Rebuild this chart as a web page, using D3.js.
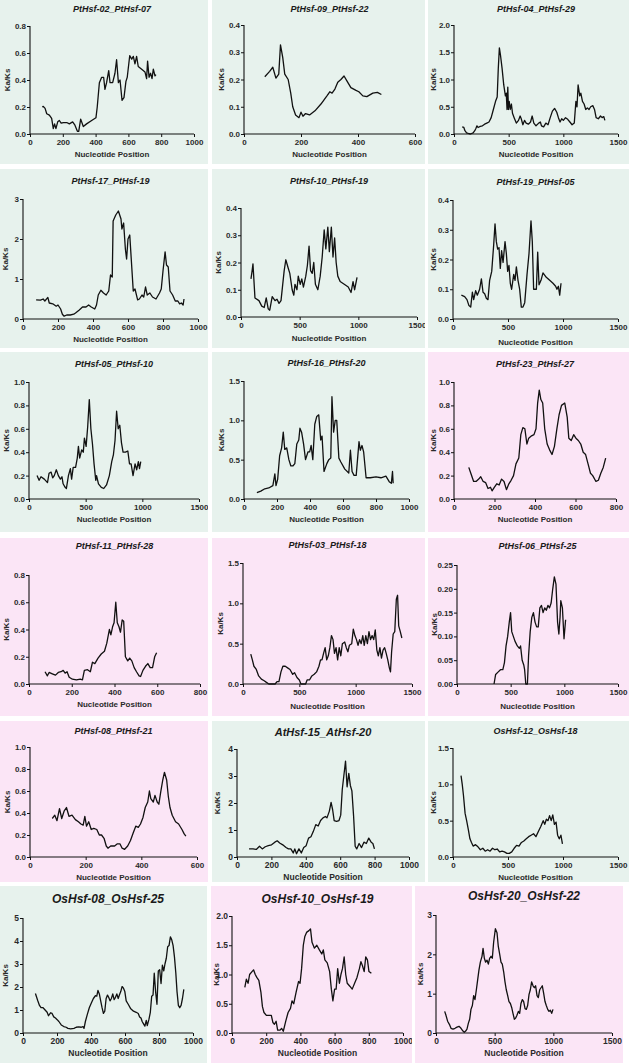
<!DOCTYPE html>
<html>
<head>
<meta charset="utf-8">
<script src="https://cdn.jsdelivr.net/npm/d3@7"></script>
<style>
  html, body { margin: 0; padding: 0; background: #fff; }
  svg { display: block; font-family: "Liberation Sans", Arial, sans-serif; }
  .tick text { font-weight: bold; fill: #2a2a2a; }
</style>
</head>
<body>
<svg id="chart" width="629" height="1063"></svg>
<script>
// ---- data: one sliding-window Ka/Ks series per gene pair ----
const titles = [
  "PtHsf-02_PtHsf-07", "PtHsf-09_PtHsf-22", "PtHsf-04_PtHsf-29",
  "PtHsf-17_PtHsf-19", "PtHsf-10_PtHsf-19", "PtHsf-19_PtHsf-05",
  "PtHsf-05_PtHsf-10", "PtHsf-16_PtHsf-20", "PtHsf-23_PtHsf-27",
  "PtHsf-11_PtHsf-28", "PtHsf-03_PtHsf-18", "PtHsf-06_PtHsf-25",
  "PtHsf-08_PtHsf-21", "AtHsf-15_AtHsf-20", "OsHsf-12_OsHsf-18",
  "OsHsf-08_OsHsf-25", "OsHsf-10_OsHsf-19", "OsHsf-20_OsHsf-22"
];
const tones  = ["g","g","g", "g","g","g", "g","g","p", "p","p","p", "p","g","g", "g","p","p"];
const xMaxes = [1000, 600, 1500, 1000, 1500, 1500, 1500, 1000, 800, 800, 1500, 1500, 600, 1000, 1500, 1000, 1000, 1500];
const xSteps = [200, 200, 500, 200, 500, 500, 500, 200, 200, 200, 500, 500, 200, 200, 500, 200, 200, 500];
const yMaxes = [0.8, 0.4, 2.0, 3, 0.4, 0.4, 1.0, 1.5, 1.0, 0.8, 1.5, 0.25, 1.0, 4, 1.5, 5, 2.0, 3];
const ySteps = [0.2, 0.1, 0.5, 1, 0.1, 0.1, 0.2, 0.5, 0.2, 0.2, 0.5, 0.05, 0.2, 1, 0.5, 1, 0.5, 1];
const yDigits = [1, 1, 1, 0, 1, 1, 1, 1, 1, 1, 1, 2, 1, 0, 1, 0, 1, 0];

const s01 = [[75,.20],[81,.205],[92,.19],[102,.15],[118,.14],[132,.115],[142,.04],[150,.075],[158,.04],[169,.09],[179,.10],[190,.08],[203,.085],[224,.085],[240,.075],[260,.09],[274,.065],[289,.02],[297,.02],[309,.11],[325,.055],[345,.075],[376,.10],[402,.12],[410,.20],[423,.38],[437,.42],[449,.42],[457,.33],[467,.38],[480,.47],[488,.38],[504,.38],[518,.45],[528,.55],[539,.38],[549,.40],[561,.25],[573,.27],[585,.39],[593,.42],[608,.58],[620,.555],[630,.575],[640,.52],[650,.575],[660,.50],[681,.48],[701,.46],[711,.41],[717,.54],[726,.42],[735,.45],[744,.41],[752,.48],[762,.43],[768,.44]];
const s02 = [[73,.21],[90,.23],[101,.245],[112,.205],[122,.22],[128,.327],[136,.28],[143,.22],[155,.20],[164,.15],[171,.10],[181,.07],[193,.06],[200,.08],[207,.065],[216,.075],[230,.07],[249,.085],[270,.11],[291,.14],[301,.155],[309,.15],[319,.165],[329,.19],[340,.20],[351,.213],[361,.195],[375,.17],[393,.16],[403,.155],[417,.14],[431,.137],[452,.15],[468,.153],[482,.145]];
const s03 = [[75,.13],[90,.12],[100,.06],[115,.02],[130,.01],[150,0],[175,.02],[190,.06],[200,.10],[210,.15],[220,.12],[240,.14],[260,.15],[280,.18],[300,.20],[320,.22],[340,.30],[360,.45],[380,.60],[395,.68],[405,1.2],[415,1.58],[425,1.45],[440,1.2],[455,.90],[470,.70],[478,.75],[485,.45],[492,.86],[498,.45],[505,.60],[515,.45],[525,.55],[535,.38],[550,.30],[570,.20],[590,.25],[605,.33],[615,.28],[630,.17],[645,.25],[660,.20],[680,.18],[700,.22],[715,.33],[730,.20],[750,.15],[775,.20],[790,.22],[800,.15],[820,.13],[840,.20],[860,.17],[880,.30],[900,.42],[920,.47],[940,.40],[955,.30],[970,.22],[985,.28],[1000,.25],[1020,.30],[1040,.27],[1060,.22],[1080,.17],[1100,.20],[1115,.60],[1125,.50],[1135,.90],[1150,.70],[1160,.75],[1175,.60],[1190,.55],[1205,.45],[1220,.48],[1235,.45],[1250,.50],[1270,.52],[1285,.45],[1300,.30],[1320,.28],[1340,.33],[1355,.30],[1370,.32],[1380,.25]];
const s04 = [[75,.48],[100,.47],[115,.50],[125,.45],[142,.54],[150,.40],[170,.38],[190,.32],[200,.35],[215,.25],[225,.12],[235,.07],[250,.10],[270,.10],[290,.12],[300,.15],[320,.22],[340,.30],[360,.30],[375,.35],[390,.30],[410,.25],[420,.35],[430,.60],[445,.72],[460,.65],[475,.60],[490,.70],[500,1.1],[510,1.05],[515,2.45],[530,2.6],[545,2.7],[560,2.5],[565,2.25],[575,2.4],[585,1.75],[592,1.5],[600,2.0],[610,2.1],[620,1.4],[630,.70],[640,.75],[655,.48],[665,.50],[680,.60],[690,.55],[700,.80],[710,.60],[725,.65],[740,.55],[760,.50],[780,.65],[790,.75],[800,1.2],[812,1.68],[820,1.35],[830,1.3],[840,.70],[855,.60],[870,.45],[885,.45],[895,.38],[905,.40],[915,.35],[920,.50]];
const s05 = [[85,.14],[95,.17],[102,.195],[119,.07],[153,.06],[177,.04],[198,.035],[215,.07],[232,.03],[245,.025],[266,.075],[290,.06],[307,.065],[324,.05],[341,.06],[368,.17],[382,.21],[402,.18],[416,.16],[436,.10],[450,.08],[460,.12],[477,.10],[488,.15],[505,.12],[518,.14],[532,.11],[552,.15],[566,.19],[580,.26],[593,.17],[607,.16],[620,.20],[634,.12],[655,.10],[675,.15],[692,.22],[709,.32],[723,.25],[740,.33],[753,.24],[770,.33],[784,.22],[798,.29],[811,.20],[825,.15],[845,.13],[880,.12],[914,.11],[938,.09],[955,.13],[968,.10],[989,.145]];
const s06 = [[76,.08],[106,.075],[127,.065],[145,.045],[161,.04],[176,.09],[188,.065],[206,.095],[221,.08],[242,.10],[258,.135],[273,.09],[288,.085],[303,.07],[318,.065],[333,.13],[352,.16],[370,.25],[382,.32],[394,.26],[406,.235],[418,.24],[430,.17],[442,.23],[455,.19],[473,.26],[485,.22],[497,.16],[509,.18],[521,.12],[533,.10],[552,.15],[564,.13],[576,.175],[591,.13],[606,.10],[621,.04],[636,.04],[652,.055],[673,.15],[691,.22],[709,.33],[721,.26],[733,.10],[745,.10],[758,.10],[770,.225],[782,.115],[800,.13],[818,.155],[848,.14],[879,.13],[909,.12],[933,.11],[945,.10],[958,.11],[970,.08],[982,.12]];
const s07 = [[71,.20],[89,.16],[106,.19],[135,.17],[163,.14],[177,.22],[195,.23],[209,.18],[223,.20],[241,.25],[259,.20],[277,.17],[291,.19],[301,.13],[319,.10],[330,.09],[348,.20],[365,.26],[376,.17],[390,.27],[411,.27],[426,.35],[436,.45],[447,.35],[465,.42],[479,.40],[489,.52],[504,.45],[518,.62],[532,.85],[546,.60],[560,.47],[574,.30],[589,.16],[596,.20],[613,.13],[638,.10],[660,.09],[684,.12],[709,.20],[730,.32],[745,.38],[759,.50],[773,.75],[787,.60],[801,.63],[816,.48],[830,.40],[851,.40],[872,.41],[887,.30],[901,.30],[918,.20],[936,.30],[950,.25],[965,.32],[975,.26],[986,.32]];
const s08 = [[78,.08],[102,.10],[126,.13],[150,.14],[175,.17],[187,.32],[194,.17],[204,.25],[216,.55],[228,.65],[238,.85],[247,.63],[259,.65],[272,.50],[284,.42],[296,.42],[308,.45],[320,.70],[332,.75],[339,.90],[349,.85],[361,.70],[373,.50],[388,.60],[398,.60],[407,.68],[417,.50],[429,.95],[441,1.05],[453,1.07],[465,.75],[473,.80],[485,.35],[502,.45],[514,.50],[526,.52],[533,1.3],[543,.85],[553,1.0],[562,1.0],[575,.52],[587,.47],[611,.38],[635,.33],[645,.62],[655,.35],[667,.30],[680,.30],[697,.73],[705,.62],[715,.68],[725,.60],[740,.27],[765,.27],[800,.28],[830,.27],[860,.29],[880,.22],[893,.20],[900,.35],[904,.20]];
const s09 = [[73,.27],[83,.22],[97,.15],[109,.15],[122,.17],[132,.19],[144,.15],[156,.14],[168,.09],[180,.10],[188,.07],[199,.10],[211,.13],[223,.12],[235,.17],[247,.15],[259,.08],[271,.13],[282,.16],[294,.20],[306,.30],[320,.35],[330,.55],[340,.61],[350,.60],[360,.47],[369,.52],[383,.54],[395,.55],[405,.60],[413,.82],[421,.93],[429,.85],[438,.82],[448,.60],[460,.47],[472,.42],[484,.38],[496,.45],[508,.60],[519,.72],[531,.80],[547,.82],[559,.70],[567,.52],[579,.50],[591,.55],[602,.52],[614,.50],[626,.47],[638,.40],[650,.38],[662,.30],[674,.22],[685,.20],[701,.15],[713,.16],[725,.22],[737,.27],[749,.35]];
const s10 = [[75,.09],[86,.06],[94,.085],[109,.075],[124,.065],[137,.085],[150,.09],[160,.10],[169,.08],[178,.09],[188,.05],[203,.035],[222,.03],[240,.035],[250,.03],[259,.10],[274,.105],[287,.09],[297,.16],[308,.15],[323,.19],[338,.22],[353,.24],[364,.30],[376,.40],[383,.36],[391,.42],[398,.45],[406,.60],[413,.45],[421,.42],[428,.38],[436,.47],[443,.46],[451,.20],[462,.17],[471,.19],[481,.17],[492,.12],[503,.09],[515,.06],[522,.055],[533,.10],[545,.13],[556,.15],[567,.12],[578,.12],[588,.20],[597,.23]];
const s11 = [[69,.37],[83,.30],[97,.22],[118,.18],[139,.10],[163,.06],[188,.04],[208,.02],[229,0],[250,0],[285,0],[302,.03],[319,.03],[337,.15],[354,.22],[375,.22],[396,.20],[417,.18],[441,.12],[458,.14],[479,.08],[500,.05],[514,0],[535,0],[556,0],[569,.05],[590,.05],[611,.10],[632,.12],[653,.15],[674,.22],[688,.30],[701,.30],[715,.38],[729,.45],[743,.30],[757,.35],[771,.45],[785,.60],[799,.55],[812,.38],[826,.45],[840,.30],[854,.45],[868,.35],[882,.50],[903,.52],[917,.45],[931,.40],[944,.48],[965,.50],[979,.68],[993,.60],[1007,.55],[1021,.48],[1035,.55],[1049,.50],[1063,.60],[1076,.48],[1090,.60],[1104,.50],[1118,.65],[1132,.55],[1146,.60],[1160,.55],[1174,.67],[1188,.42],[1201,.35],[1215,.45],[1229,.32],[1243,.42],[1257,.45],[1271,.38],[1285,.30],[1299,.20],[1309,.15],[1319,.40],[1333,.62],[1347,.65],[1361,1.05],[1372,1.1],[1382,.72],[1396,.65],[1410,.57]];
const s12 = [[345,0],[360,.02],[382,.025],[405,.03],[427,.03],[442,.045],[457,.08],[472,.10],[487,.13],[499,.15],[510,.11],[525,.10],[540,.09],[562,.08],[581,.075],[592,.08],[607,.05],[622,.04],[630,.03],[641,0],[656,0],[667,.06],[682,.11],[697,.14],[712,.15],[727,.13],[742,.12],[757,.12],[772,.16],[787,.165],[802,.15],[817,.16],[832,.155],[847,.165],[862,.16],[877,.17],[892,.20],[907,.225],[922,.21],[937,.13],[949,.105],[960,.14],[967,.175],[982,.16],[997,.095],[1012,.135]];
const s13 = [[80,.35],[89,.38],[97,.33],[106,.44],[114,.35],[123,.42],[131,.45],[140,.37],[151,.38],[163,.34],[174,.32],[183,.30],[191,.29],[197,.37],[203,.28],[211,.32],[220,.25],[229,.26],[240,.25],[249,.20],[257,.20],[266,.17],[274,.10],[280,.08],[290,.10],[304,.10],[314,.12],[323,.12],[331,.08],[340,.07],[351,.10],[361,.15],[371,.22],[380,.28],[389,.27],[397,.30],[406,.36],[414,.45],[423,.50],[429,.60],[434,.53],[443,.50],[449,.56],[457,.50],[463,.48],[469,.58],[477,.70],[483,.77],[491,.70],[497,.55],[503,.45],[511,.38],[523,.32],[534,.30],[546,.25],[554,.21],[560,.19]];
const s14 = [[70,.30],[93,.30],[112,.28],[131,.40],[147,.30],[164,.38],[182,.42],[201,.45],[220,.55],[234,.60],[248,.52],[266,.45],[285,.35],[299,.30],[313,.30],[327,.15],[336,.30],[346,.12],[360,.30],[374,.15],[388,.35],[402,.42],[416,.70],[430,.75],[444,.95],[458,1.2],[472,1.15],[486,1.35],[500,1.45],[514,1.5],[523,1.45],[537,1.7],[547,2.02],[556,1.75],[565,1.35],[579,1.32],[593,1.35],[603,1.55],[612,2.5],[621,3.0],[631,3.55],[640,2.6],[650,3.1],[659,2.65],[668,2.45],[678,1.5],[687,.40],[696,.30],[710,.50],[724,.35],[738,.55],[752,.50],[766,.70],[780,.55],[790,.50],[799,.30]];
const s15 = [[73,1.12],[84,1.0],[95,.85],[110,.60],[124,.50],[139,.38],[154,.25],[168,.20],[183,.15],[205,.17],[227,.14],[249,.10],[271,.12],[293,.08],[315,.10],[337,.08],[359,.12],[381,.10],[402,.11],[424,.07],[446,.08],[468,.07],[490,.05],[512,.05],[534,.07],[556,.12],[578,.16],[600,.15],[622,.20],[644,.22],[666,.25],[688,.28],[710,.30],[732,.32],[754,.28],[776,.35],[798,.42],[820,.50],[834,.45],[849,.52],[864,.50],[878,.57],[893,.50],[907,.58],[922,.45],[937,.48],[951,.30],[966,.25],[981,.30],[995,.18]];
const s16 = [[73,1.72],[87,1.4],[97,1.2],[106,1.1],[118,1.1],[130,1.0],[142,.90],[150,.75],[162,.88],[171,.85],[181,.70],[191,.65],[201,.58],[211,.50],[225,.35],[240,.28],[254,.25],[264,.20],[280,.18],[300,.20],[313,.25],[327,.27],[343,.25],[353,.28],[359,.20],[367,.50],[378,.80],[390,1.1],[402,1.3],[414,1.5],[426,1.62],[434,1.6],[441,1.85],[449,1.7],[457,1.4],[465,1.1],[473,.85],[481,.95],[489,1.5],[497,1.65],[504,1.55],[512,1.4],[520,1.5],[528,1.7],[536,1.45],[544,1.55],[552,1.7],[560,1.5],[567,1.65],[575,1.8],[583,2.02],[591,1.95],[599,1.8],[607,1.4],[619,1.25],[634,1.05],[650,.95],[666,.90],[678,.85],[686,.70],[694,.65],[701,.50],[709,.40],[717,.30],[725,.55],[731,.32],[741,.60],[749,.90],[757,1.6],[765,1.65],[772,2.6],[780,1.8],[788,1.25],[796,2.7],[804,2.75],[812,2.15],[820,2.95],[828,2.7],[835,3.0],[843,3.25],[851,3.75],[859,3.8],[867,4.18],[875,4.05],[883,3.8],[891,3.3],[899,2.6],[906,1.8],[914,1.2],[922,1.1],[930,1.2],[938,1.5],[946,1.9]];
const s17 = [[75,.78],[84,.92],[94,.85],[103,1.0],[117,1.05],[126,1.08],[136,1.0],[145,.95],[157,.90],[169,.70],[178,.45],[187,.35],[201,.30],[215,.30],[230,.30],[239,.18],[248,.15],[258,.20],[267,.05],[281,.05],[290,.08],[300,.03],[314,.20],[328,.35],[342,.42],[351,.55],[361,.50],[375,.70],[389,.88],[398,.85],[407,1.1],[417,1.5],[426,1.65],[436,1.72],[450,1.75],[459,1.78],[468,1.55],[482,1.45],[496,1.5],[511,1.42],[525,1.35],[534,1.42],[543,1.25],[557,1.2],[571,1.05],[581,.75],[590,.55],[600,.75],[609,.75],[618,1.1],[628,.85],[637,1.0],[646,1.1],[656,1.3],[665,1.0],[674,.85],[689,.80],[703,.75],[717,.85],[731,.95],[745,1.1],[754,1.22],[763,1.15],[773,1.05],[782,1.3],[792,1.25],[801,1.05],[815,1.02]];
const s18 = [[74,.55],[85,.45],[99,.30],[114,.22],[128,.12],[145,.10],[162,.12],[179,.15],[196,.17],[213,.12],[230,.05],[241,.02],[253,.05],[264,.10],[276,.25],[287,.35],[298,.60],[310,.70],[321,.95],[332,.85],[344,1.1],[355,1.35],[366,1.6],[378,1.8],[392,1.95],[401,2.15],[412,1.9],[423,1.8],[435,1.85],[446,1.75],[457,1.9],[469,1.95],[480,1.9],[491,2.3],[506,2.65],[520,2.55],[531,2.2],[543,2.0],[554,1.8],[565,1.75],[577,1.55],[588,1.3],[599,1.1],[611,.95],[622,.80],[634,.75],[645,.65],[656,.50],[668,.35],[679,.38],[690,.45],[702,.55],[713,.50],[724,.75],[736,.85],[747,.80],[759,.62],[770,.60],[781,.70],[793,.98],[804,1.1],[815,1.3],[827,1.2],[838,1.15],[849,1.2],[861,.95],[872,.90],[884,1.1],[895,1.15],[906,1.2],[918,1.0],[929,.80],[940,.70],[952,.60],[963,.55],[974,.58],[986,.50],[997,.60]];
const series = [s01, s02, s03, s04, s05, s06, s07, s08, s09, s10, s11, s12, s13, s14, s15, s16, s17, s18];

// ---- layout (pixel boxes of each panel and its plot area) ----
// frame: [x0, y0, x1, y1]; plot: [left, top, right, bottom, titleY, xLabelY]
const frames = [
  [0,0,208,164],[212,0,425,164],[428,0,629,164],
  [0,169,208,348],[212,169,425,348],[428,169,629,348],
  [0,352,208,532],[212,352,425,532],[428,352,629,532],
  [0,538,208,716],[212,538,425,716],[428,538,629,716],
  [0,721,208,882],[212,721,425,882],[428,721,629,882],
  [0,886,207,1063],[211,886,412,1063],[415,886,623,1063]
];
const plots = [
  [30,26,194,134,10,155],[244,25,415,134,10,155],[454,25,618,134,10,155],
  [23,199,198,319,182,340],[241,208,417,317,182,339],[453,200,618,319,183,343],
  [29,382,199,499,365,520],[244,381,409,499,364,520],[454,382,616,499,365,520],
  [29,575,200,684,547,705],[243,563,412,684,546,707],[457,565,618,684,547,707],
  [30,747,197,857,732,878],[237,749,409,857,733,878],[453,748,618,857,732,878],
  [23,918,193,1033,900,1054],[232,916,403,1033,900,1054],[436,915,612,1033,897,1054]
];
const titleSizes = [9,9,9, 9,9,9, 9,9,9, 9,9,9, 9,11,9, 12,12,12];
const bg = { g: "#e7f2ed", p: "#fbe5f6" };

const svg = d3.select("#chart");

series.forEach((data, i) => {
  const [fx0, fy0, fx1, fy1] = frames[i];
  const [left, top, right, bottom, titleY, xlabY] = plots[i];
  const big = titleSizes[i] > 10;

  const clipId = "clip" + i;
  svg.append("clipPath").attr("id", clipId)
    .append("rect").attr("x", fx0).attr("y", fy0).attr("width", fx1 - fx0).attr("height", fy1 - fy0);

  const g = svg.append("g").attr("clip-path", `url(#${clipId})`);
  g.append("rect")
    .attr("x", fx0).attr("y", fy0)
    .attr("width", fx1 - fx0).attr("height", fy1 - fy0)
    .attr("fill", bg[tones[i]]);

  const x = d3.scaleLinear().domain([0, xMaxes[i]]).range([left, right]);
  const y = d3.scaleLinear().domain([0, yMaxes[i]]).range([bottom, top]);

  const xTicks = d3.range(0, xMaxes[i] + 1e-9, xSteps[i]);
  const yTicks = d3.range(0, yMaxes[i] + 1e-9, ySteps[i]);
  const tickFont = big ? 8.5 : 8;

  const xAxis = g.append("g").attr("transform", `translate(0,${bottom})`)
    .call(d3.axisBottom(x).tickValues(xTicks).tickSize(3).tickPadding(2).tickFormat(d3.format("d")));
  const yAxis = g.append("g").attr("transform", `translate(${left},0)`)
    .call(d3.axisLeft(y).tickValues(yTicks).tickSize(3).tickPadding(1).tickFormat(d3.format(`.${yDigits[i]}f`)));
  [xAxis, yAxis].forEach(a => {
    a.select(".domain").attr("stroke", "#111").attr("stroke-width", 1.1)
      .attr("d", a === xAxis ? `M${left},0H${right}` : `M0,${bottom}V${top}`);
    a.selectAll(".tick line").attr("stroke", "#111").attr("stroke-width", 1);
    a.selectAll(".tick text").attr("font-size", tickFont);
  });

  g.append("path")
    .datum(data)
    .attr("fill", "none")
    .attr("stroke", "#111")
    .attr("stroke-width", 1.3)
    .attr("stroke-linejoin", "round")
    .attr("d", d3.line().x(d => x(d[0])).y(d => y(d[1])));

  g.append("text")
    .attr("x", (left + right) / 2).attr("y", titleY)
    .attr("text-anchor", "middle").attr("dominant-baseline", "middle")
    .attr("font-size", titleSizes[i]).attr("font-weight", "bold").attr("font-style", "italic")
    .attr("fill", "#1a1a1a")
    .text(titles[i]);

  g.append("text")
    .attr("x", (left + right) / 2).attr("y", xlabY)
    .attr("text-anchor", "middle").attr("dominant-baseline", "middle")
    .attr("font-size", big ? 8.5 : 8).attr("font-weight", "bold").attr("fill", "#2a2a2a")
    .text("Nucleotide Position");

  const ky = (top + bottom) / 2;
  const kx = Math.max(fx0 + 6, left - 22);
  g.append("text")
    .attr("transform", `translate(${kx},${ky}) rotate(-90)`)
    .attr("text-anchor", "middle").attr("dominant-baseline", "middle")
    .attr("font-size", 8).attr("font-weight", "bold").attr("fill", "#2a2a2a")
    .text("Ka/Ks");
});
</script>
</body>
</html>
